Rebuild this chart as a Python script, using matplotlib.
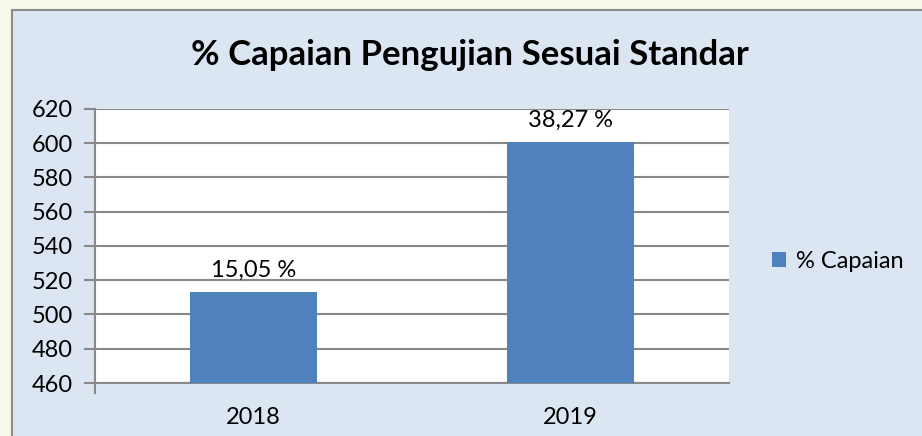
import matplotlib
matplotlib.use("Agg")
import matplotlib.pyplot as plt
from matplotlib.patches import Rectangle
import numpy as np

categories = ["2018", "2019"]
values = [513, 601]
labels = ["15,05 %", "38,27 %"]
series_name = "% Capaian"
title = "% Capaian Pengujian Sesuai Standar"
yticks = [460, 480, 500, 520, 540, 560, 580, 600, 620]

W, H = 922, 436
plt.rcParams['font.family'] = ['Lato', 'DejaVu Sans']
fig = plt.figure(figsize=(W / 100, H / 100), dpi=100)
fig.patch.set_facecolor("#F5F8EA")

# chart area
fig.patches.append(Rectangle((12 / W, -0.1), 1.1, (H - 10) / H + 0.1, transform=fig.transFigure,
                             facecolor="#DCE6F2", edgecolor="#8C8C8C", linewidth=1.5, zorder=-10))

ax = fig.add_axes([95 / W, (H - 383) / H, (729 - 95) / W, (383 - 109) / H])
ax.set_facecolor("white")
x = np.arange(len(categories))
bars = ax.bar(x, values, width=0.4, color="#4F81BD", zorder=3, label=series_name)
ax.set_ylim(yticks[0], yticks[-1])
ax.set_xlim(-0.5, len(categories) - 0.5)
ax.set_yticks(yticks)
ax.yaxis.grid(True, color="#898989", linewidth=1.5, zorder=1)
ax.set_axisbelow(True)
for s in ["top", "right"]:
    ax.spines[s].set_visible(False)
for s in ["left", "bottom"]:
    ax.spines[s].set_color("#898989")
    ax.spines[s].set_linewidth(1.5)
ax.tick_params(axis="y", length=8, width=1.5, color="#898989", labelsize=17, pad=8)
ax.set_xticks([-0.5], labels=[""])
ax.set_xticks(x, labels=categories, minor=True)
ax.tick_params(axis="x", which="major", length=8, width=1.5, color="#898989")
ax.tick_params(axis="x", which="minor", length=0, labelsize=17, pad=17)

for xi, v, lab in zip(x, values, labels):
    ax.annotate(lab, (xi, v), xytext=(0, 8), textcoords="offset points",
                ha="center", va="bottom", fontsize=17)

fig.text(470 / W, 1 - 55 / H, title, ha="center", va="center", fontsize=25, fontweight="bold")

leg = fig.legend(handles=[bars], labels=[series_name], loc="center left",
                 bbox_to_anchor=(751 / W, 1 - 261 / H), frameon=False, fontsize=17,
                 handlelength=0.6, handleheight=0.6, handletextpad=0.4)

fig.savefig("out.png", dpi=100, facecolor=fig.get_facecolor())
